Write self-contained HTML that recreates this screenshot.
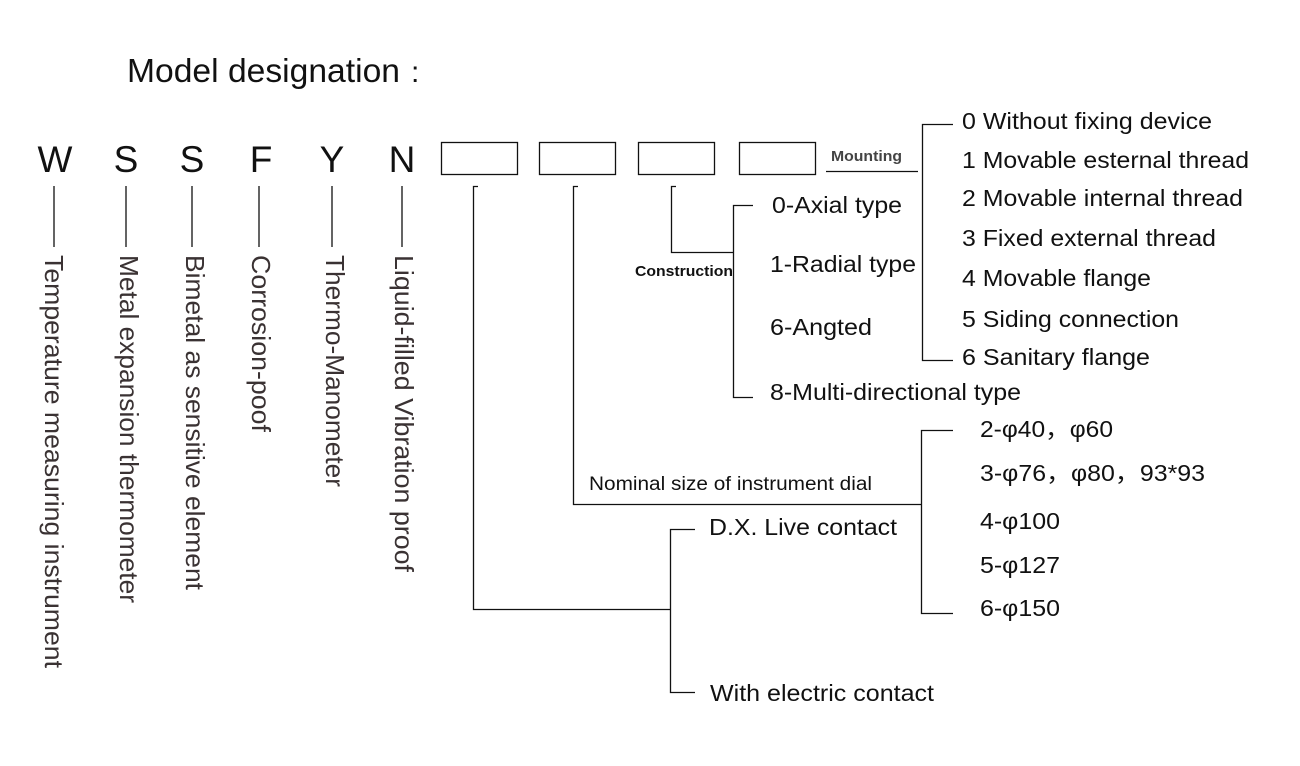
<!DOCTYPE html>
<html><head><meta charset="utf-8"><style>
body{margin:0;background:#fff;}
svg{display:block;font-family:"Liberation Sans","Noto Sans CJK SC",sans-serif;}
</style></head><body>
<svg width="1300" height="766" viewBox="0 0 1300 766" xmlns="http://www.w3.org/2000/svg">
<rect width="1300" height="766" fill="#fff"/>
<text x="127" y="82" font-size="33" fill="#111" textLength="273" lengthAdjust="spacingAndGlyphs">Model designation</text>
<text x="411" y="82" font-size="30" fill="#111">:</text>
<g font-size="37" fill="#111" text-anchor="middle">
<text x="55" y="172">W</text><text x="126" y="172">S</text><text x="192" y="172">S</text>
<text x="261" y="172">F</text><text x="332" y="172">Y</text><text x="402" y="172">N</text>
</g>
<g stroke="#111" stroke-width="1.3" fill="none">
<line x1="54" y1="186" x2="54" y2="247"/><line x1="126" y1="186" x2="126" y2="247"/>
<line x1="192" y1="186" x2="192" y2="247"/><line x1="259" y1="186" x2="259" y2="247"/>
<line x1="332" y1="186" x2="332" y2="247"/><line x1="402" y1="186" x2="402" y2="247"/>
<rect x="441.5" y="142.5" width="76" height="32"/>
<rect x="539.5" y="142.5" width="76" height="32"/>
<rect x="638.5" y="142.5" width="76" height="32"/>
<rect x="739.5" y="142.5" width="76" height="32"/>
<polyline points="478,186.5 473.5,186.5 473.5,609.5 670.5,609.5"/>
<polyline points="578,186.5 573.5,186.5 573.5,504.5 921.5,504.5"/>
<polyline points="676,186.5 671.5,186.5 671.5,252.5 734,252.5"/>
<polyline points="753,205.5 733.5,205.5 733.5,397.5 753,397.5"/>
<line x1="826" y1="171.5" x2="918" y2="171.5"/>
<polyline points="953,124.5 922.5,124.5 922.5,360.5 953,360.5"/>
<polyline points="953,430.5 921.5,430.5 921.5,613.5 953,613.5"/>
<polyline points="695,529.5 670.5,529.5 670.5,692.5 695,692.5"/>
</g>
<g font-size="26" fill="#3a3233">
<text transform="translate(45,255) rotate(90)" textLength="413" lengthAdjust="spacingAndGlyphs">Temperature measuring instrument</text>
<text transform="translate(120,255) rotate(90)" textLength="348" lengthAdjust="spacingAndGlyphs">Metal expansion thermometer</text>
<text transform="translate(186,255) rotate(90)" textLength="335" lengthAdjust="spacingAndGlyphs">Bimetal as sensitive element</text>
<text transform="translate(252,255) rotate(90)" textLength="177" lengthAdjust="spacingAndGlyphs">Corrosion-poof</text>
<text transform="translate(326,255) rotate(90)" textLength="232" lengthAdjust="spacingAndGlyphs">Thermo-Manometer</text>
<text transform="translate(395,255) rotate(90)" textLength="317" lengthAdjust="spacingAndGlyphs">Liquid-filled Vibration proof</text>
</g>
<text x="831" y="161" font-size="15" font-weight="bold" fill="#444" textLength="71" lengthAdjust="spacingAndGlyphs">Mounting</text>
<text x="635" y="276" font-size="15" font-weight="bold" fill="#111" textLength="98" lengthAdjust="spacingAndGlyphs">Construction</text>
<text x="589" y="490" font-size="19" fill="#111" textLength="283" lengthAdjust="spacingAndGlyphs">Nominal size of instrument dial</text>
<g font-size="23" fill="#111" lengthAdjust="spacingAndGlyphs">
<text x="962" y="129" textLength="250" lengthAdjust="spacingAndGlyphs">0 Without fixing device</text>
<text x="962" y="168" textLength="287" lengthAdjust="spacingAndGlyphs">1 Movable esternal thread</text>
<text x="962" y="206" textLength="281" lengthAdjust="spacingAndGlyphs">2 Movable internal thread</text>
<text x="962" y="246" textLength="254" lengthAdjust="spacingAndGlyphs">3 Fixed external thread</text>
<text x="962" y="286" textLength="189" lengthAdjust="spacingAndGlyphs">4 Movable flange</text>
<text x="962" y="327" textLength="217" lengthAdjust="spacingAndGlyphs">5 Siding connection</text>
<text x="962" y="365" textLength="188" lengthAdjust="spacingAndGlyphs">6 Sanitary flange</text>
<text x="772" y="213" textLength="130" lengthAdjust="spacingAndGlyphs">0-Axial type</text>
<text x="770" y="272" textLength="146" lengthAdjust="spacingAndGlyphs">1-Radial type</text>
<text x="770" y="335" textLength="102" lengthAdjust="spacingAndGlyphs">6-Angted</text>
<text x="770" y="400" textLength="251" lengthAdjust="spacingAndGlyphs">8-Multi-directional type</text>
<text x="980" y="437" textLength="133" lengthAdjust="spacingAndGlyphs">2-φ40，φ60</text>
<text x="980" y="481" textLength="225" lengthAdjust="spacingAndGlyphs">3-φ76，φ80，93*93</text>
<text x="980" y="529" textLength="80" lengthAdjust="spacingAndGlyphs">4-φ100</text>
<text x="980" y="573" textLength="80" lengthAdjust="spacingAndGlyphs">5-φ127</text>
<text x="980" y="616" textLength="80" lengthAdjust="spacingAndGlyphs">6-φ150</text>
<text x="709" y="535" textLength="188" lengthAdjust="spacingAndGlyphs">D.X. Live contact</text>
<text x="710" y="701" textLength="224" lengthAdjust="spacingAndGlyphs">With electric contact</text>
</g>
</svg>
</body></html>
